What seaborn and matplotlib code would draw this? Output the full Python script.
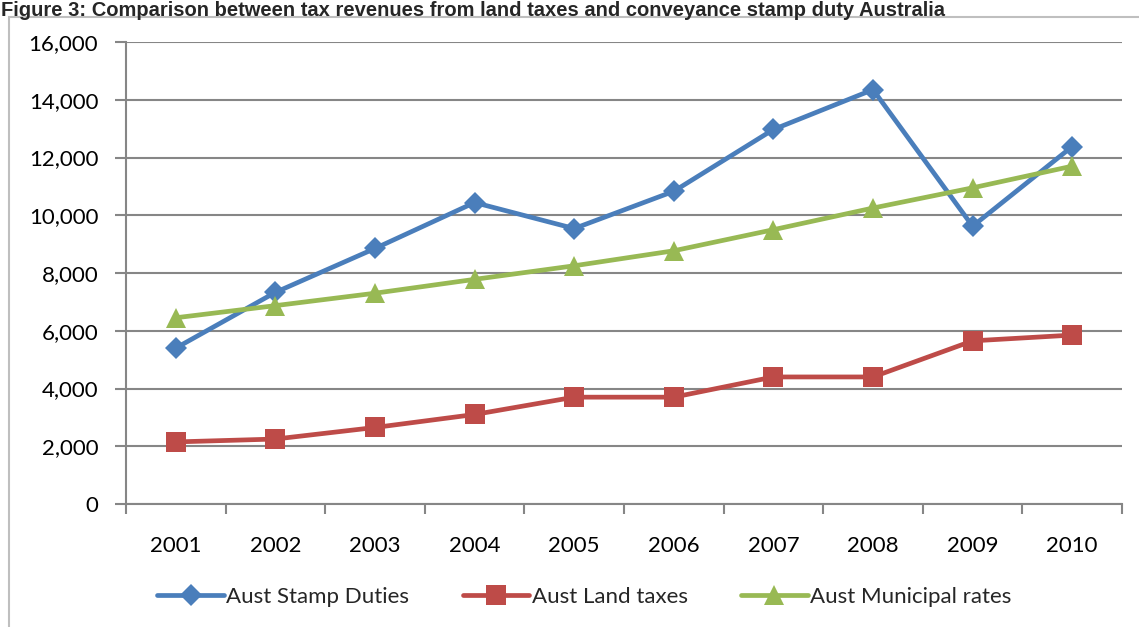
import numpy as np
import matplotlib.pyplot as plt
import seaborn as sns
import pandas as pd
from matplotlib.patches import Rectangle
from matplotlib.ticker import FuncFormatter, MultipleLocator, FixedLocator

years = [2001, 2002, 2003, 2004, 2005, 2006, 2007, 2008, 2009, 2010]
stamp_duties = [5400, 7330, 8850, 10440, 9540, 10830, 12970, 14350, 9620, 12380]
land_taxes = [2150, 2250, 2650, 3100, 3700, 3700, 4400, 4400, 5650, 5850]
municipal_rates = [6450, 6870, 7300, 7780, 8250, 8770, 9500, 10250, 10950, 11700]
series_names = ['Aust Stamp Duties', 'Aust Land taxes', 'Aust Municipal rates']
title = 'Figure 3: Comparison between tax revenues from land taxes and conveyance stamp duty Australia'

df = pd.DataFrame({'Year': years * 3,
                   'Value': stamp_duties + land_taxes + municipal_rates,
                   'Series': [s for s in series_names for _ in years]})

sns.set_style('white')
plt.rcParams['font.family'] = ['Lato', 'DejaVu Sans']

palette = {'Aust Stamp Duties': '#4A7EBB', 'Aust Land taxes': '#BE4B48', 'Aust Municipal rates': '#98B954'}
markers = {'Aust Stamp Duties': 'D', 'Aust Land taxes': 's', 'Aust Municipal rates': '^'}
msizes = {'Aust Stamp Duties': 11, 'Aust Land taxes': 14, 'Aust Municipal rates': 15}

fig = plt.figure(figsize=(11.39, 6.27), dpi=100)
ax = fig.add_axes([126 / 1139, 1 - 504 / 627, (1122 - 126) / 1139, (504 - 42) / 627])

for name in series_names:
    sub = df[df['Series'] == name]
    sns.lineplot(data=sub, x='Year', y='Value', ax=ax, color=palette[name], marker=markers[name],
                 markersize=msizes[name], markeredgewidth=0, linewidth=3.4, label=name,
                 legend=False, zorder=3)

ax.set_xlim(2000.5, 2010.5)
ax.set_ylim(0, 16000)
ax.yaxis.set_major_locator(MultipleLocator(2000))
ax.yaxis.set_major_formatter(FuncFormatter(lambda v, p: f'{int(v):,}'))
ax.xaxis.set_major_locator(FixedLocator(years))
ax.xaxis.set_minor_locator(FixedLocator([y + 0.5 for y in [2000] + years]))
ax.grid(axis='y', color='#868686', linewidth=1.5, zorder=0)
ax.set_xlabel('')
ax.set_ylabel('')
for side in ['top', 'right']:
    ax.spines[side].set_visible(False)
for side in ['left', 'bottom']:
    ax.spines[side].set_color('#868686')
    ax.spines[side].set_linewidth(1.5)
ax.tick_params(axis='y', which='major', left=True, length=8, width=1.5, color='#868686',
               labelsize=16, pad=12, labelcolor='black')
ax.tick_params(axis='x', which='major', bottom=False, length=0, labelsize=16, pad=23,
               labelcolor='black')
ax.tick_params(axis='x', which='minor', bottom=True, length=7, width=1.5, color='#868686')

handles, labels = ax.get_legend_handles_labels()
fig.legend(handles, labels, loc='center', bbox_to_anchor=(0.513, 1 - 597 / 627), ncol=3,
           frameon=False, fontsize=16, handlelength=3.0, handletextpad=0.1, columnspacing=2.4)

# outer chart border
fig.patches.append(Rectangle((9 / 1139, -0.05), 1.0, 1 - 17 / 627 + 0.05, transform=fig.transFigure,
                             fill=False, edgecolor='#BFBFBF', linewidth=1.5))

fig.text(0.001, 1 - 1 / 627, title, fontsize=14.5, fontweight='bold', va='top', ha='left',
         family=['Liberation Sans Narrow', 'Liberation Sans', 'DejaVu Sans'])

fig.savefig('out.png', dpi=100)
